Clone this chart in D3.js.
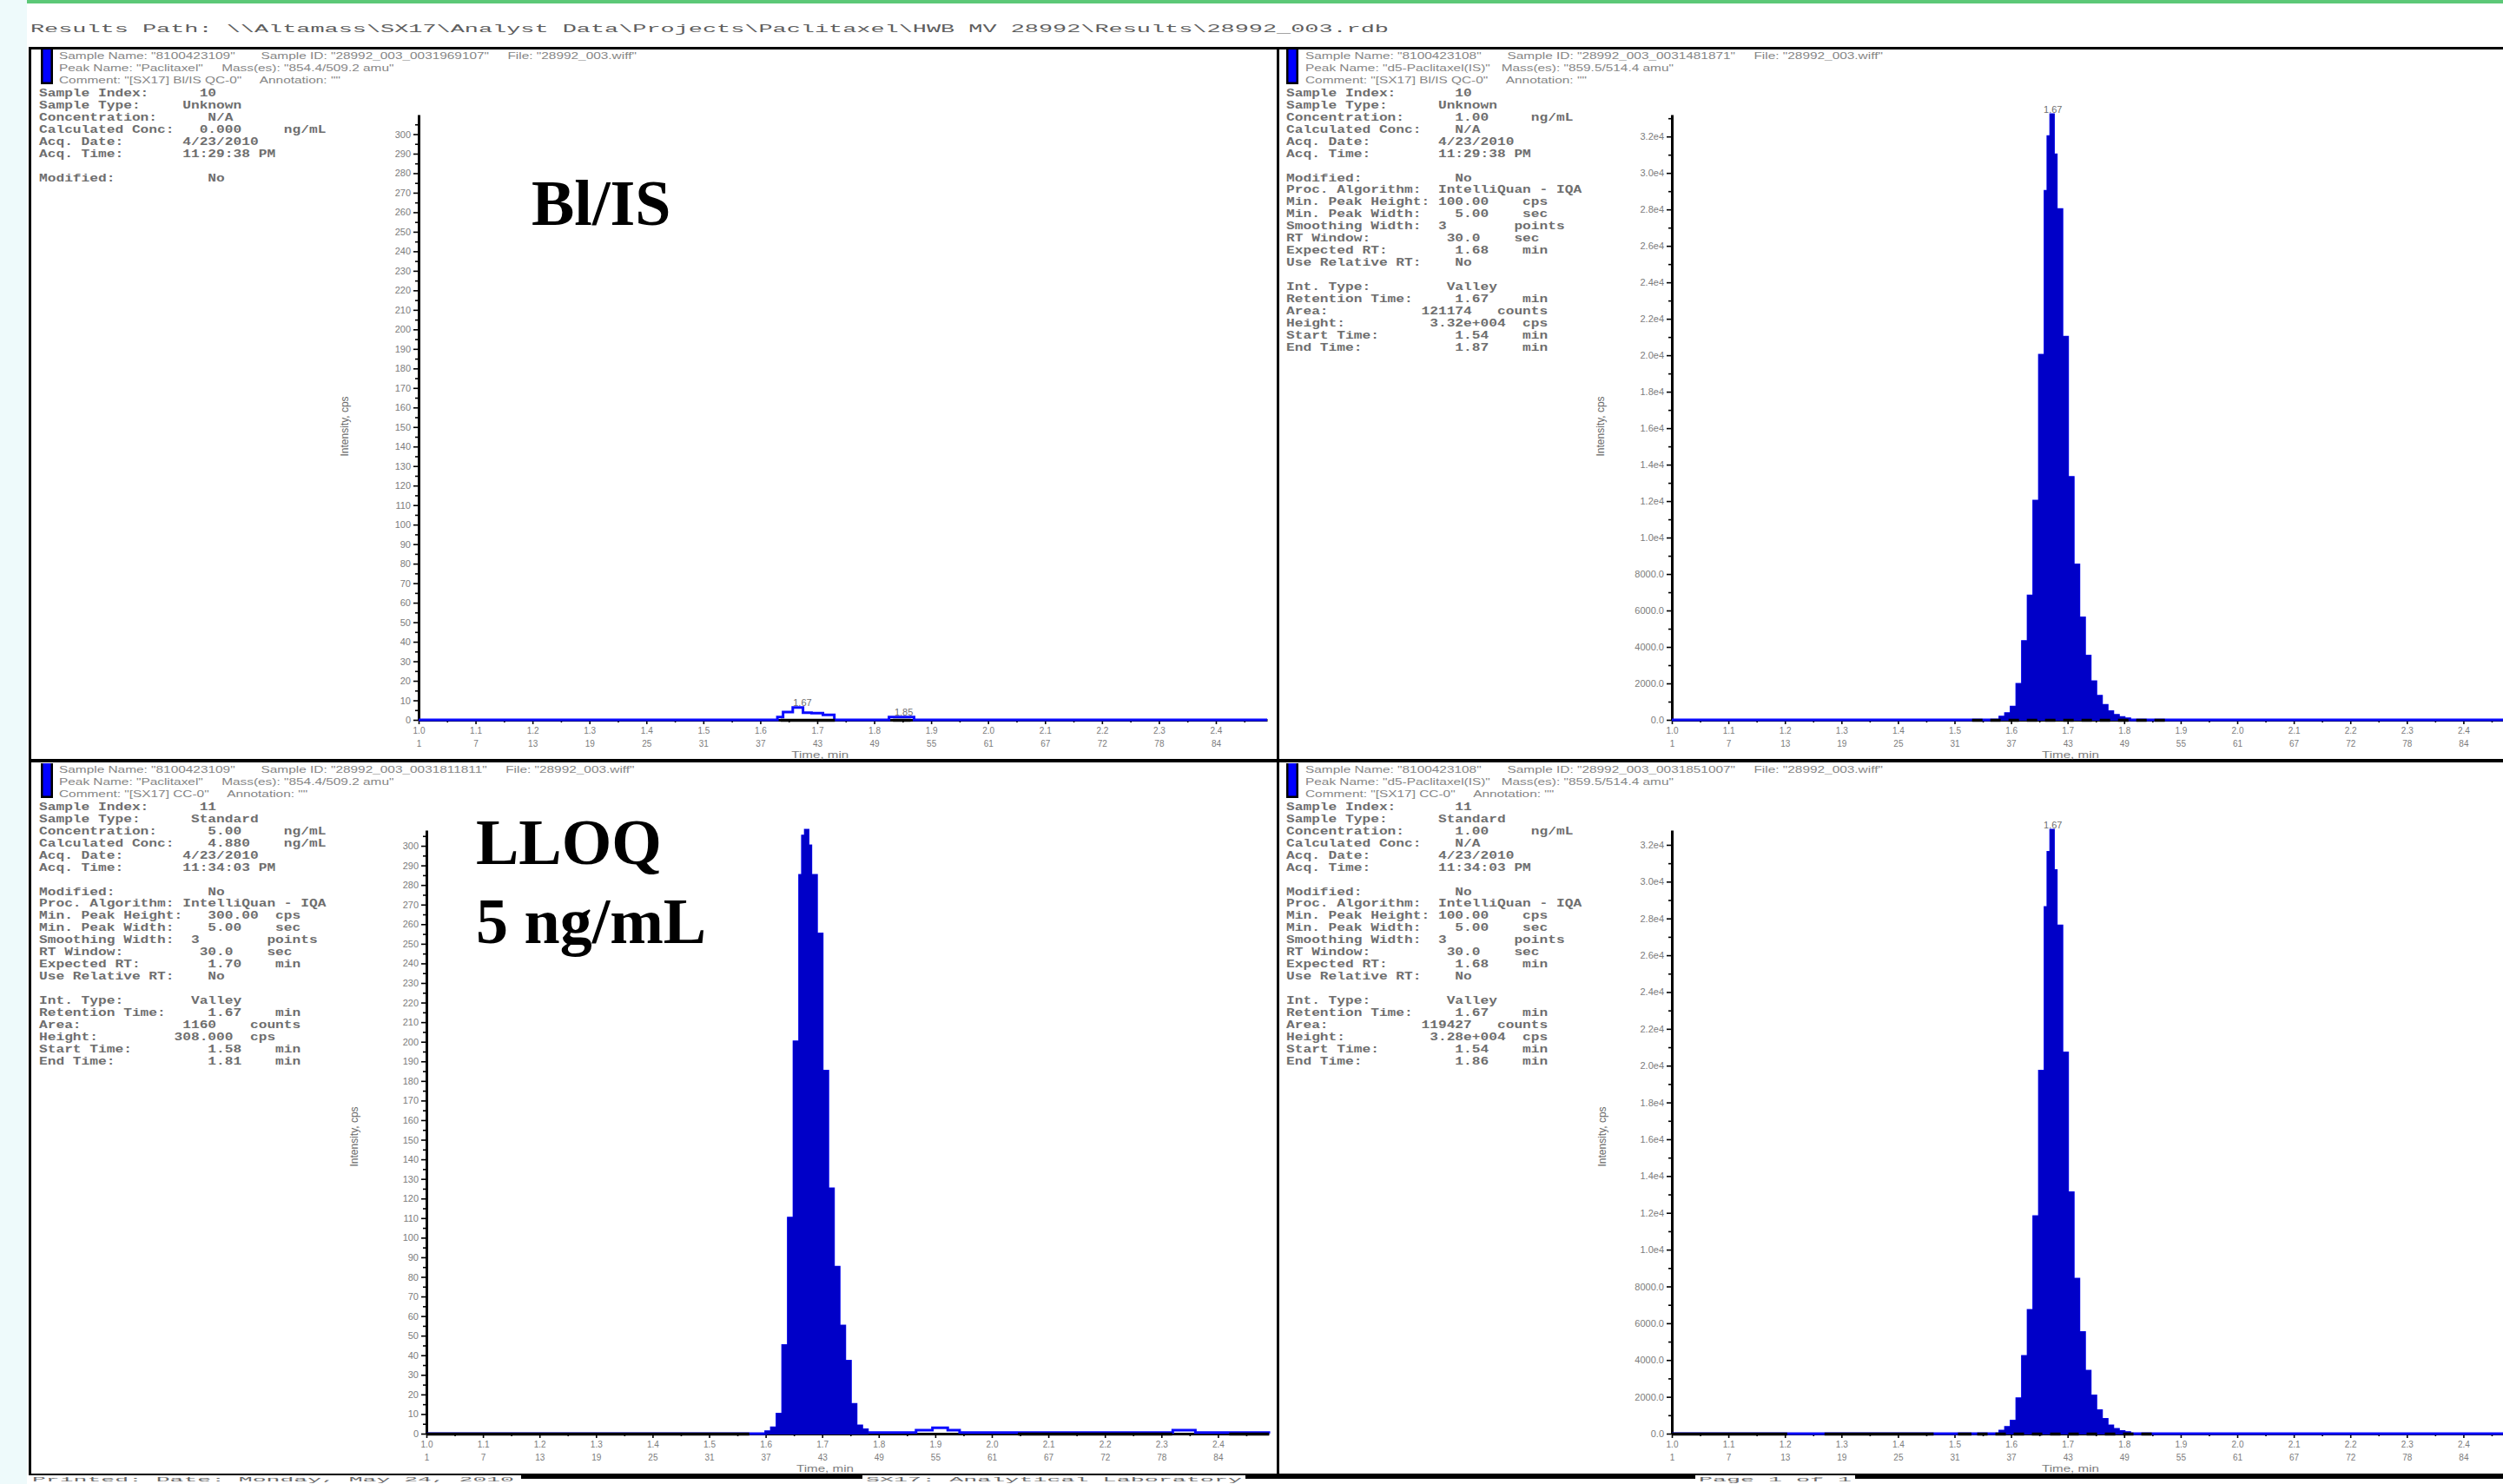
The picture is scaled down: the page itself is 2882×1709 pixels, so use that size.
<!DOCTYPE html>
<html>
<head>
<meta charset="utf-8">
<title>Paclitaxel chromatograms</title>
<script src="https://cdn.jsdelivr.net/npm/d3@7"></script>
<style>
  html, body { margin:0; padding:0; background:#ffffff; }
  svg { display:block; }
  text { white-space: pre; }
</style>
</head>
<body>
<svg id="chart" width="2882" height="1709"></svg>
<script>
// ================= DATA =================
const resultsPath = "Results Path: \\\\Altamass\\SX17\\Analyst Data\\Projects\\Paclitaxel\\HWB MV 28992\\Results\\28992_003.rdb";
const footerTexts = ["Printed: Date: Monday, May 24, 2010", "SX17: Analytical Laboratory", "Page 1 of 1"];

const timeTickLabels = ["1.0","1.1","1.2","1.3","1.4","1.5","1.6","1.7","1.8","1.9","2.0","2.1","2.2","2.3","2.4"];
const scanTickLabels = ["1","7","13","19","25","31","37","43","49","55","61","67","72","78","84"];

const cpsTicksLow  = [0,10,20,30,40,50,60,70,80,90,100,110,120,130,140,150,160,170,180,190,200,210,220,230,240,250,260,270,280,290,300];
const cpsLabelsLow = ["0","10","20","30","40","50","60","70","80","90","100","110","120","130","140","150","160","170","180","190","200","210","220","230","240","250","260","270","280","290","300"];
const cpsTicksHigh  = [0,2000,4000,6000,8000,10000,12000,14000,16000,18000,20000,22000,24000,26000,28000,30000,32000];
const cpsLabelsHigh = ["0.0","2000.0","4000.0","6000.0","8000.0","1.0e4","1.2e4","1.4e4","1.6e4","1.8e4","2.0e4","2.2e4","2.4e4","2.6e4","2.8e4","3.0e4","3.2e4"];

const axisMaxCps = [310, 33200, 308, 32800];

// Blank + IS, analyte channel (Paclitaxel)
const blankTime = [1.0, 1.63, 1.64, 1.657, 1.675, 1.69, 1.71, 1.73, 1.826, 1.87, 2.49];
const blankCps  = [0,   1.5,  4,    6.3,   3.7,   3.5,  2.6,  0,    1.5,   0,    0];
const blankPeakTime = [1.674, 1.852];
const blankPeakCps  = [6.3, 1.5];
const blankPeakText = ["1.67", "1.85"];

// Blank + IS, internal standard channel (d5-Paclitaxel)
const isBlankTime = [1.0, 1.58, 1.59, 1.60, 1.61, 1.62, 1.63, 1.64, 1.65, 1.66, 1.665, 1.67, 1.675, 1.68, 1.69, 1.70, 1.71, 1.72, 1.73, 1.74, 1.75, 1.76, 1.77, 1.78, 1.79, 1.80, 1.81, 2.49];
const isBlankCps  = [0, 150, 350, 700, 1950, 4300, 6800, 12000, 20000, 29000, 32000, 33200, 31000, 28000, 21000, 13300, 8500, 5600, 3500, 2100, 1300, 800, 450, 250, 130, 60, 0, 0];
const isBlankPeakTime = [1.674];
const isBlankPeakCps  = [33200];
const isBlankPeakText = ["1.67"];

// LLOQ 5 ng/mL, analyte channel
const lloqTime = [1.0, 1.60, 1.61, 1.62, 1.63, 1.64, 1.65, 1.66, 1.665, 1.67, 1.675, 1.68, 1.69, 1.70, 1.71, 1.72, 1.73, 1.74, 1.75, 1.76, 1.77, 1.78, 1.866, 1.895, 1.922, 1.943, 2.32, 2.36, 2.49];
const lloqCps  = [0,   1,    3,    10,   45,   110,  200,  285,  305,   308,  300,   285,  255,  185,  125,  85,   55,   37,   15,   4,    2,    0.5,  1.8,   3,     1.8,   0.5,   1.8,  0.5,  0];
const lloqPeakTime = [];
const lloqPeakCps  = [];
const lloqPeakText = [];

// LLOQ 5 ng/mL, internal standard channel
const isLloqTime = [1.0, 1.58, 1.59, 1.60, 1.61, 1.62, 1.63, 1.64, 1.65, 1.66, 1.665, 1.67, 1.675, 1.68, 1.69, 1.70, 1.71, 1.72, 1.73, 1.74, 1.75, 1.76, 1.77, 1.78, 1.79, 1.80, 1.81, 2.49];
const isLloqCps  = [0, 140, 340, 680, 1900, 4200, 6700, 11800, 19700, 28600, 31600, 32800, 30600, 27600, 20700, 13100, 8400, 5500, 3400, 2050, 1250, 780, 430, 240, 120, 55, 0, 0];
const isLloqPeakTime = [1.674];
const isLloqPeakCps  = [32800];
const isLloqPeakText = ["1.67"];

// integrated peak windows (Start Time / End Time)
const fillStart = [null, 1.54, 1.58, 1.54];
const fillEnd   = [null, 1.87, 1.81, 1.86];

// black baseline segments on the time axis
const blankBaseSolid   = [[1.636, 1.731], [1.833, 1.864]];
const isBlankBaseSolid = [];
const isBlankBaseDash  = [[1.531, 1.879]];
const lloqBaseSolid    = [[1.0, 1.571], [2.046, 2.319], [2.42, 2.49]];
const isLloqBaseSolid  = [[1.0, 1.204], [1.27, 1.463], [1.506, 1.53]];
const isLloqBaseDash   = [[1.54, 1.86]];

const blankHeader = [
  'Sample Name: "8100423109"       Sample ID: "28992_003_0031969107"     File: "28992_003.wiff"',
  'Peak Name: "Paclitaxel"     Mass(es): "854.4/509.2 amu"',
  'Comment: "[SX17] Bl/IS QC-0"     Annotation: ""'
];
const isBlankHeader = [
  'Sample Name: "8100423108"       Sample ID: "28992_003_0031481871"     File: "28992_003.wiff"',
  'Peak Name: "d5-Paclitaxel(IS)"   Mass(es): "859.5/514.4 amu"',
  'Comment: "[SX17] Bl/IS QC-0"     Annotation: ""'
];
const lloqHeader = [
  'Sample Name: "8100423109"       Sample ID: "28992_003_0031811811"     File: "28992_003.wiff"',
  'Peak Name: "Paclitaxel"     Mass(es): "854.4/509.2 amu"',
  'Comment: "[SX17] CC-0"     Annotation: ""'
];
const isLloqHeader = [
  'Sample Name: "8100423108"       Sample ID: "28992_003_0031851007"     File: "28992_003.wiff"',
  'Peak Name: "d5-Paclitaxel(IS)"   Mass(es): "859.5/514.4 amu"',
  'Comment: "[SX17] CC-0"     Annotation: ""'
];

const blankInfo = [
  "Sample Index:      10",
  "Sample Type:     Unknown",
  "Concentration:      N/A",
  "Calculated Conc:   0.000     ng/mL",
  "Acq. Date:       4/23/2010",
  "Acq. Time:       11:29:38 PM",
  "",
  "Modified:           No"
];
const isBlankInfo = [
  "Sample Index:       10",
  "Sample Type:      Unknown",
  "Concentration:      1.00     ng/mL",
  "Calculated Conc:    N/A",
  "Acq. Date:        4/23/2010",
  "Acq. Time:        11:29:38 PM",
  "",
  "Modified:           No",
  "Proc. Algorithm:  IntelliQuan - IQA",
  "Min. Peak Height: 100.00    cps",
  "Min. Peak Width:    5.00    sec",
  "Smoothing Width:  3        points",
  "RT Window:         30.0    sec",
  "Expected RT:        1.68    min",
  "Use Relative RT:    No",
  "",
  "Int. Type:         Valley",
  "Retention Time:     1.67    min",
  "Area:           121174   counts",
  "Height:          3.32e+004  cps",
  "Start Time:         1.54    min",
  "End Time:           1.87    min"
];
const lloqInfo = [
  "Sample Index:      11",
  "Sample Type:      Standard",
  "Concentration:      5.00     ng/mL",
  "Calculated Conc:    4.880    ng/mL",
  "Acq. Date:       4/23/2010",
  "Acq. Time:       11:34:03 PM",
  "",
  "Modified:           No",
  "Proc. Algorithm: IntelliQuan - IQA",
  "Min. Peak Height:   300.00  cps",
  "Min. Peak Width:    5.00    sec",
  "Smoothing Width:  3        points",
  "RT Window:         30.0    sec",
  "Expected RT:        1.70    min",
  "Use Relative RT:    No",
  "",
  "Int. Type:        Valley",
  "Retention Time:     1.67    min",
  "Area:            1160    counts",
  "Height:         308.000  cps",
  "Start Time:         1.58    min",
  "End Time:           1.81    min"
];
const isLloqInfo = [
  "Sample Index:       11",
  "Sample Type:      Standard",
  "Concentration:      1.00     ng/mL",
  "Calculated Conc:    N/A",
  "Acq. Date:        4/23/2010",
  "Acq. Time:        11:34:03 PM",
  "",
  "Modified:           No",
  "Proc. Algorithm:  IntelliQuan - IQA",
  "Min. Peak Height: 100.00    cps",
  "Min. Peak Width:    5.00    sec",
  "Smoothing Width:  3        points",
  "RT Window:         30.0    sec",
  "Expected RT:        1.68    min",
  "Use Relative RT:    No",
  "",
  "Int. Type:         Valley",
  "Retention Time:     1.67    min",
  "Area:           119427   counts",
  "Height:          3.28e+004  cps",
  "Start Time:         1.54    min",
  "End Time:           1.86    min"
];

const bigLabelsBlank = ["Bl/IS"];
const bigLabelsLloq  = ["LLOQ", "5 ng/mL"];

// ================= DRAWING =================
const W = 2882, H = 1709;
const svg = d3.select("#chart");
const BLUE_LINE = "#0a0aff", BLUE_FILL = "#0000c8";

svg.append("rect").attr("width", W).attr("height", H).attr("fill", "#ffffff");
svg.append("rect").attr("x", 0).attr("y", 0).attr("width", 31).attr("height", H).attr("fill", "#eefafb");
svg.append("rect").attr("x", 31).attr("y", 0).attr("width", W - 31).attr("height", 4).attr("fill", "#5cc877");

// Results path
svg.append("text").attr("x", 35).attr("y", 37)
  .attr("font-family", "Liberation Mono").attr("font-size", 12).attr("fill", "#5e5e5e")
  .attr("textLength", 1564).attr("lengthAdjust", "spacingAndGlyphs")
  .attr("xml:space", "preserve")
  .text(resultsPath);

// frame
const frame = svg.append("g").attr("fill", "#000");
frame.append("rect").attr("x", 33).attr("y", 54).attr("width", W - 33).attr("height", 3);
frame.append("rect").attr("x", 33).attr("y", 54).attr("width", 3).attr("height", 1645);
frame.append("rect").attr("x", 1470).attr("y", 54).attr("width", 3).attr("height", 1645);
frame.append("rect").attr("x", 33).attr("y", 874).attr("width", W - 33).attr("height", 4);
frame.append("rect").attr("x", 33).attr("y", 1697).attr("width", W - 33).attr("height", 2);
[[600, 993], [1434, 1952], [2136, W]].forEach(s => {
  frame.append("rect").attr("x", s[0]).attr("y", 1697).attr("width", s[1] - s[0]).attr("height", 6);
});
// footer texts at the bottom edge (kept fully inside the page)
const footerPos = [[37, 555], [997, 433], [1956, 176]];
footerTexts.forEach((t, i) => {
  svg.append("text").attr("x", footerPos[i][0]).attr("y", 1705.5)
    .attr("font-family", "Liberation Mono").attr("font-size", 7.5).attr("fill", "#6a6a6a")
    .attr("textLength", footerPos[i][1]).attr("lengthAdjust", "spacingAndGlyphs")
    .text(t);
});

const panels = [
  { oy: 57,  legendX: 47,   headerX: 68,   infoX: 45,   x0: 482,  x1: 1459, base: 829,  top: 132,
    yTicks: cpsTicksLow,  yLabels: cpsLabelsLow,  time: blankTime,   cps: blankCps,
    header: blankHeader,  info: blankInfo,  solid: blankBaseSolid,   dash: [],
    pkT: blankPeakTime, pkV: blankPeakCps, pkS: blankPeakText, idx: 0, ylabX: 401, ylabY: 491 },
  { oy: 57,  legendX: 1481, headerX: 1503, infoX: 1481, x0: 1925, x1: 2895, base: 829,  top: 132,
    yTicks: cpsTicksHigh, yLabels: cpsLabelsHigh, time: isBlankTime, cps: isBlankCps,
    header: isBlankHeader, info: isBlankInfo, solid: isBlankBaseSolid, dash: isBlankBaseDash,
    pkT: isBlankPeakTime, pkV: isBlankPeakCps, pkS: isBlankPeakText, idx: 1, ylabX: 1847, ylabY: 491 },
  { oy: 879, legendX: 47,   headerX: 68,   infoX: 45,   x0: 491,  x1: 1461, base: 1651, top: 956,
    yTicks: cpsTicksLow,  yLabels: cpsLabelsLow,  time: lloqTime,    cps: lloqCps,
    header: lloqHeader,   info: lloqInfo,   solid: lloqBaseSolid,    dash: [],
    pkT: lloqPeakTime, pkV: lloqPeakCps, pkS: lloqPeakText, idx: 2, ylabX: 412, ylabY: 1309 },
  { oy: 879, legendX: 1481, headerX: 1503, infoX: 1481, x0: 1925, x1: 2895, base: 1651, top: 956,
    yTicks: cpsTicksHigh, yLabels: cpsLabelsHigh, time: isLloqTime,  cps: isLloqCps,
    header: isLloqHeader, info: isLloqInfo, solid: isLloqBaseSolid, dash: isLloqBaseDash,
    pkT: isLloqPeakTime, pkV: isLloqPeakCps, pkS: isLloqPeakText, idx: 3, ylabX: 1849, ylabY: 1309 }
];

const timeVals = timeTickLabels.map(Number);
const timeMinor = timeVals.map(v => v + 0.05);

panels.forEach(p => {
  const g = svg.append("g");
  const x = d3.scaleLinear().domain([1.0, 2.49]).range([p.x0, p.x1]);
  const y = d3.scaleLinear().domain([0, axisMaxCps[p.idx]]).range([p.base, p.top]);

  // legend swatch
  g.append("rect").attr("x", p.legendX).attr("y", p.oy).attr("width", 14).attr("height", 40).attr("fill", "#000");
  g.append("rect").attr("x", p.legendX + 2.5).attr("y", p.oy).attr("width", 9).attr("height", 37.5).attr("fill", "#0000ff");

  // header lines
  p.header.forEach((s, i) => {
    g.append("text")
      .attr("transform", `translate(${p.headerX},${p.oy + 11 + i * 14}) scale(1.4,1)`)
      .attr("font-family", "Liberation Sans").attr("font-size", 11).attr("fill", "#858585")
      .attr("xml:space", "preserve").text(s);
  });
  // info lines
  p.info.forEach((s, i) => {
    if (!s) return;
    g.append("text")
      .attr("transform", `translate(${p.infoX},${p.oy + 54 + i * 13.93}) scale(1.35,1)`)
      .attr("font-family", "Liberation Mono").attr("font-size", 12).attr("font-weight", "bold")
      .attr("fill", "#6e6e6e").attr("xml:space", "preserve").text(s);
  });

  // y axis
  const yMinor = [];
  for (let i = 0; i < p.yTicks.length; i++) {
    const step = p.yTicks[1] - p.yTicks[0];
    const m = p.yTicks[i] + step / 2;
    if (m <= axisMaxCps[p.idx]) yMinor.push(m);
  }
  const yAxis = g.append("g").attr("transform", `translate(${p.x0},0)`)
    .call(d3.axisLeft(y).tickValues(p.yTicks).tickFormat((d, i) => p.yLabels[i]).tickSize(6).tickSizeOuter(0).tickPadding(3));
  yAxis.append("g").call(d3.axisLeft(y).tickValues(yMinor).tickFormat("").tickSize(4).tickSizeOuter(0))
    .select(".domain").remove();
  yAxis.selectAll(".domain").attr("stroke", "#000").attr("stroke-width", 3);
  yAxis.selectAll(".tick line").attr("stroke", "#000").attr("stroke-width", 1.6);
  yAxis.selectAll(".tick text").attr("fill", "#7c7c7c").attr("font-family", "Liberation Sans").attr("font-size", 11);

  // x axis
  const xAxis = g.append("g").attr("transform", `translate(0,${p.base})`)
    .call(d3.axisBottom(x).tickValues(timeVals).tickFormat((d, i) => timeTickLabels[i]).tickSize(5).tickSizeOuter(0).tickPadding(4));
  xAxis.selectAll(".domain").attr("stroke", "#000").attr("stroke-width", 3);
  const xMinor = g.append("g").attr("transform", `translate(0,${p.base})`)
    .call(d3.axisBottom(x).tickValues(timeMinor.filter(v => v <= 2.49)).tickFormat("").tickSize(3).tickSizeOuter(0));
  xMinor.select(".domain").remove();
  const xScan = g.append("g").attr("transform", `translate(0,${p.base})`)
    .call(d3.axisBottom(x).tickValues(timeVals).tickFormat((d, i) => scanTickLabels[i]).tickSize(0).tickPadding(24));
  xScan.select(".domain").remove();
  g.selectAll(".tick line").attr("stroke", "#000").attr("stroke-width", 1.6);
  [xAxis, xScan].forEach(a => a.selectAll(".tick text")
    .attr("fill", "#7c7c7c").attr("font-family", "Liberation Sans").attr("font-size", 10));

  // axis titles
  g.append("text").attr("x", x(1.705)).attr("y", p.base + 44).attr("text-anchor", "middle")
    .attr("font-family", "Liberation Sans").attr("font-size", 10).attr("fill", "#7c7c7c")
    .attr("textLength", 66).attr("lengthAdjust", "spacingAndGlyphs").text("Time, min");
  g.append("text").attr("transform", `translate(${p.ylabX},${p.ylabY}) rotate(-90)`)
    .attr("text-anchor", "middle").attr("font-family", "Liberation Sans").attr("font-size", 12)
    .attr("fill", "#6a6a6a").text("Intensity, cps");

  // trace
  const pts = p.time.map((t, i) => ({ t: t, v: p.cps[i] }));
  const line = d3.line().x(d => x(d.t)).y(d => y(d.v)).curve(d3.curveStepAfter);
  g.append("path").datum(pts).attr("d", line).attr("fill", "none")
    .attr("stroke", BLUE_LINE).attr("stroke-width", 3);

  // integrated peak fill
  if (fillStart[p.idx] !== null) {
    const fp = pts.filter(d => d.t >= fillStart[p.idx] && d.t <= fillEnd[p.idx]);
    const area = d3.area().x(d => x(d.t)).y0(y(0)).y1(d => y(d.v)).curve(d3.curveStepAfter);
    g.append("path").datum(fp).attr("d", area).attr("fill", BLUE_FILL)
      .attr("stroke", BLUE_FILL).attr("stroke-width", 2);
  }

  // black baseline segments
  p.solid.forEach(s => {
    g.append("line").attr("x1", x(s[0])).attr("x2", x(s[1])).attr("y1", p.base + 0.5).attr("y2", p.base + 0.5)
      .attr("stroke", "#000").attr("stroke-width", 3.5);
  });
  p.dash.forEach(s => {
    g.append("line").attr("x1", x(s[0])).attr("x2", x(s[1])).attr("y1", p.base + 0.5).attr("y2", p.base + 0.5)
      .attr("stroke", "#000").attr("stroke-width", 3.5).attr("stroke-dasharray", "12,9");
  });

  // peak labels
  p.pkT.forEach((t, i) => {
    g.append("text").attr("x", x(t)).attr("y", y(p.pkV[i]) - 2).attr("text-anchor", "middle")
      .attr("font-family", "Liberation Sans").attr("font-size", 11).attr("fill", "#6e6e6e")
      .text(p.pkS[i]);
  });
});

// big annotations
svg.append("text").attr("x", 612).attr("y", 259)
  .attr("font-family", "Liberation Serif").attr("font-weight", "bold").attr("font-size", 74)
  .attr("fill", "#000").text(bigLabelsBlank[0]);
bigLabelsLloq.forEach((s, i) => {
  svg.append("text").attr("x", 548).attr("y", 995 + i * 91)
    .attr("font-family", "Liberation Serif").attr("font-weight", "bold").attr("font-size", 74)
    .attr("fill", "#000").text(s);
});
</script>
</body>
</html>
